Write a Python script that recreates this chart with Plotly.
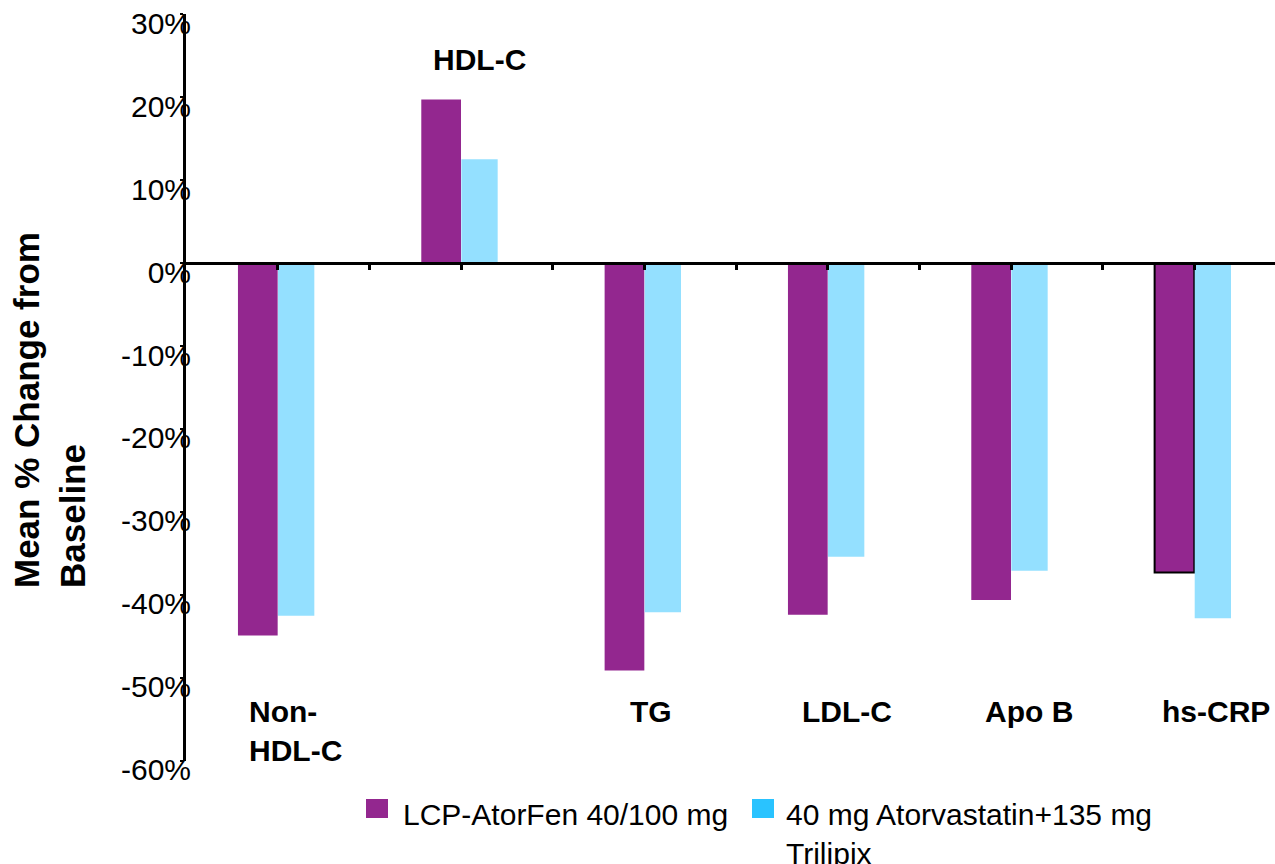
import plotly.graph_objects as go

# ---------------- data ----------------
categories = ["Non-HDL-C", "HDL-C", "TG", "LDL-C", "Apo B", "hs-CRP"]
category_labels = ["Non-<br>HDL-C", "HDL-C", "TG", "LDL-C", "Apo B", "hs-CRP"]
series_names = ["LCP-AtorFen 40/100 mg", "40 mg Atorvastatin+135 mg<br>Trilipix"]
lcp_atorfen = [-44.9, 19.7, -49.1, -42.4, -40.6, -37.3]
atorva_trilipix = [-42.5, 12.5, -42.1, -35.4, -37.1, -42.8]
y_ticks = [-60, -50, -40, -30, -20, -10, 0, 10, 20, 30]
y_tick_labels = [f"{v}%" for v in y_ticks]
y_title = "Mean % Change from<br>Baseline"

# ---------------- styles ----------------
PURPLE = "#93278F"
LIGHT_BLUE = "#94E0FF"
LEGEND_BLUE = "#29C3FF"
FONT = "Liberation Sans, Arial, sans-serif"

W, H = 1275, 864
ML, MR, MT, MB = 186, 0, 14, 103
PW, PH = W - ML - MR, H - MT - MB

def px_x(p):
    return (p - ML) / PW

def px_y(p):
    return (H - MB - p) / PH

idx = list(range(len(categories)))

fig = go.Figure()
fig.add_trace(go.Bar(
    x=idx, y=lcp_atorfen, name=series_names[0],
    width=0.2166, offset=-0.2166,
    marker=dict(color=PURPLE,
                line=dict(color="black",
                          width=[2 if c == "hs-CRP" else 0 for c in categories])),
    showlegend=False,
))
fig.add_trace(go.Bar(
    x=idx, y=atorva_trilipix, name=series_names[1],
    width=0.198, offset=0.002,
    marker=dict(color=LIGHT_BLUE, line=dict(width=0)),
    showlegend=False,
))

# category labels
label_y = [-54.0, 24.5, -54.0, -54.0, -54.0, -54.0]
label_shift = [-31, 18, 7, 19, 18, 22]
label_anchor = ["left", "center", "center", "center", "center", "center"]
annotations = []
for i, lab in enumerate(category_labels):
    annotations.append(dict(
        x=idx[i], y=label_y[i], xref="x", yref="y", text=lab,
        showarrow=False, xanchor=label_anchor[i], yanchor="top" if i == 0 else "middle",
        yshift=18 if i == 0 else 0,
        xshift=label_shift[i], align="left",
        font=dict(family=FONT, size=30, color="black", weight="bold"),
    ))

# y-axis title
annotations.append(dict(
    x=px_x(50), y=px_y(410), xref="paper", yref="paper",
    text=y_title, textangle=-90, showarrow=False, align="left",
    xanchor="center", yanchor="middle",
    font=dict(family=FONT, size=35, color="black", weight="bold"),
))

# manual legend
shapes = []
legend_swatch_x = [366, 752]
legend_text_x = [401, 784]
legend_colors = [PURPLE, LEGEND_BLUE]
for k in range(2):
    shapes.append(dict(
        type="rect", xref="paper", yref="paper",
        x0=px_x(legend_swatch_x[k]), x1=px_x(legend_swatch_x[k] + 22),
        y0=px_y(818), y1=px_y(799),
        fillcolor=legend_colors[k], line=dict(width=0),
    ))
    annotations.append(dict(
        x=px_x(legend_text_x[k]), y=px_y(796), xref="paper", yref="paper",
        text=series_names[k], showarrow=False, xanchor="left", yanchor="top",
        align="left",
        font=dict(family=FONT, size=30, color="black"),
    ))

fig.update_layout(
    width=W, height=H,
    margin=dict(l=ML, r=MR, t=MT, b=MB, pad=0),
    paper_bgcolor="white", plot_bgcolor="white",
    barmode="overlay",
    showlegend=False,
    font=dict(family=FONT, size=30, color="black"),
    annotations=annotations,
    shapes=shapes,
    xaxis=dict(
        range=[-0.5, 5.44],
        tickmode="array",
        tickvals=[i * 0.5 for i in range(12)],
        showticklabels=False,
        ticks="outside", ticklen=5, tickwidth=3, tickcolor="black",
        showline=True, linewidth=3, linecolor="black",
        showgrid=False, zeroline=False,
        anchor="free", position=60 / 90,
    ),
    yaxis=dict(
        range=[-60.02, 30.02],
        tickmode="array", tickvals=y_ticks, ticktext=y_tick_labels,
        ticks="outside", ticklen=3, tickwidth=2, tickcolor="black",
        showline=True, linewidth=3, linecolor="black",
        showgrid=False, zeroline=False,
        ticklabelstandoff=-17, ticklabelshift=9,
        tickfont=dict(family=FONT, size=30, color="black"),
    ),
)

fig.write_html(
    "out.html",
    config={"displayModeBar": False},
    post_script="document.body.style.margin='0';document.body.style.overflow='hidden';",
)
